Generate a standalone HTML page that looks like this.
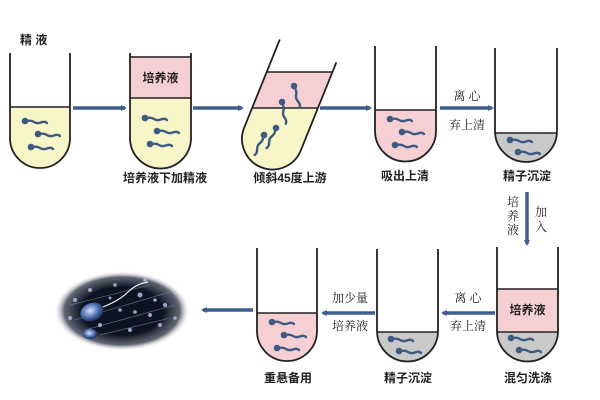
<!DOCTYPE html>
<html><head><meta charset="utf-8"><style>
body{margin:0;background:#fff}
svg{display:block}
.t{font-family:"Liberation Sans","Noto Sans CJK SC",sans-serif;font-weight:bold;font-size:12px;fill:#222}
.s{font-family:"Liberation Serif","Noto Serif CJK SC",serif;font-size:12px;fill:#222}
</style></head><body>
<svg width="600" height="400" viewBox="0 0 600 400" xmlns="http://www.w3.org/2000/svg">
<defs>
<g id="sp"><circle cx="0" cy="0" r="3.3" fill="#3d5b82"/><path d="M2,0 Q6,-1 9,1 T16,1.5 T22,2" stroke="#3d5b82" stroke-width="2.4" fill="none" stroke-linecap="round"/></g>
<radialGradient id="eg" cx="50%" cy="50%" r="50%"><stop offset="0.6" stop-color="#0d1320"/><stop offset="0.85" stop-color="#3a4050" stop-opacity="0.8"/><stop offset="1" stop-color="#fff" stop-opacity="0"/></radialGradient>
<radialGradient id="hd" cx="45%" cy="40%" r="60%"><stop offset="0" stop-color="#d8e6ff"/><stop offset="0.6" stop-color="#4d6fb0"/><stop offset="1" stop-color="#1c2c55"/></radialGradient>
<clipPath id="c1"><path d="M10,50 V138 A30 30 0 0 0 70,138 V50Z"/></clipPath>
<clipPath id="c2"><path d="M130,50 V138 A30.5 30.5 0 0 0 191,138 V50Z"/></clipPath>
<clipPath id="c3"><path transform="translate(272.5,139) rotate(22)" d="M-30.5,-95 V0 A30.5 30.5 0 0 0 30.5,0 V-95Z"/></clipPath>
<clipPath id="c4"><path d="M375,40 V131 A30.5 30.5 0 0 0 436,131 V40Z"/></clipPath>
<clipPath id="c5"><path d="M495,40 V131 A31 31 0 0 0 557,131 V40Z"/></clipPath>
<clipPath id="c6"><path d="M497,240 V331 A30.5 30.5 0 0 0 558,331 V240Z"/></clipPath>
<clipPath id="c7"><path d="M377,240 V331 A30.5 30.5 0 0 0 438,331 V240Z"/></clipPath>
<clipPath id="c8"><path d="M257,240 V331 A30 30 0 0 0 317,331 V240Z"/></clipPath>
<marker id="ah" markerWidth="6" markerHeight="6" refX="4" refY="3" orient="auto" markerUnits="userSpaceOnUse"><path d="M0,0 L6,3 L0,6Z" fill="#3e5f8c"/></marker>
</defs>
<g stroke="#3e5f8c" stroke-width="3.5" fill="none" marker-end="url(#ah)">
<line x1="73" y1="108" x2="125" y2="108"/>
<line x1="193" y1="108" x2="242" y2="108"/>
<line x1="320" y1="108" x2="370" y2="108"/>
<line x1="440" y1="108" x2="492" y2="108"/>
<line x1="527" y1="192" x2="527" y2="244"/>
<line x1="495" y1="313" x2="443" y2="313"/>
<line x1="375" y1="313" x2="323" y2="313"/>
<line x1="253" y1="310" x2="203" y2="310"/>
</g>
<!-- tube1 -->
<g clip-path="url(#c1)"><rect x="0" y="107" width="80" height="70" fill="#f8f5c8"/></g>
<line x1="10" y1="107" x2="70" y2="107" stroke="#222" stroke-width="1.5"/>
<path d="M10,53 V138 A30 30 0 0 0 70,138 V53" stroke="#222" stroke-width="1.8" fill="none"/>
<use href="#sp" x="25" y="121"/><use href="#sp" x="38" y="134"/><use href="#sp" x="31" y="147"/>
<text class="t" x="20" y="44" font-size="13">精 液</text>
<!-- tube2 -->
<g clip-path="url(#c2)"><rect x="120" y="56" width="80" height="42" fill="#f6cfd2"/><rect x="120" y="98" width="80" height="80" fill="#f8f5c8"/></g>
<line x1="130" y1="57" x2="191" y2="57" stroke="#222" stroke-width="1.5"/>
<line x1="130" y1="98" x2="191" y2="98" stroke="#222" stroke-width="1.5"/>
<path d="M130,53 V138 A30.5 30.5 0 0 0 191,138 V53" stroke="#222" stroke-width="1.8" fill="none"/>
<text class="t" x="160.5" y="82" text-anchor="middle" font-weight="normal" font-size="12.5">培养液</text>
<use href="#sp" x="145" y="118"/><use href="#sp" x="157" y="131"/><use href="#sp" x="150" y="144"/>
<text class="t" x="165" y="182" text-anchor="middle" font-size="11">培养液下加精液</text>
<!-- tube3 -->
<g clip-path="url(#c3)"><rect x="230" y="72" width="120" height="36" fill="#f6cfd2"/><rect x="230" y="108" width="120" height="70" fill="#f8f5c8"/>
<line x1="230" y1="72" x2="350" y2="72" stroke="#222" stroke-width="1.5"/>
<line x1="230" y1="108" x2="350" y2="108" stroke="#222" stroke-width="1.5"/></g>
<path transform="translate(272.5,139) rotate(22)" d="M-30.5,-95 V0 A30.5 30.5 0 0 0 30.5,0 V-95" stroke="#222" stroke-width="1.8" fill="none"/>
<use href="#sp" transform="translate(294,86) rotate(70)"/><use href="#sp" transform="translate(282,102) rotate(75)"/>
<use href="#sp" transform="translate(276,128) rotate(110)"/><use href="#sp" transform="translate(264,135) rotate(110)"/>
<text class="t" x="290" y="182" text-anchor="middle" font-size="12">倾斜45度上游</text>
<!-- tube4 -->
<g clip-path="url(#c4)"><rect x="370" y="110" width="80" height="70" fill="#f6cfd2"/></g>
<line x1="375" y1="110" x2="436" y2="110" stroke="#222" stroke-width="1.5"/>
<path d="M375,46 V131 A30.5 30.5 0 0 0 436,131 V46" stroke="#222" stroke-width="1.8" fill="none"/>
<use href="#sp" x="390" y="119"/><use href="#sp" x="402" y="132"/><use href="#sp" x="395" y="145"/>
<text class="t" x="405" y="180" text-anchor="middle" font-size="12">吸出上清</text>
<text class="s" x="467" y="100" text-anchor="middle">离 心</text>
<text class="s" x="467" y="129" text-anchor="middle">弃上清</text>
<!-- tube5 -->
<g clip-path="url(#c5)"><rect x="490" y="133" width="80" height="40" fill="#c9c9c9"/></g>
<line x1="495" y1="133" x2="557" y2="133" stroke="#222" stroke-width="1.5"/>
<path d="M495,48 V131 A31 31 0 0 0 557,131 V48" stroke="#222" stroke-width="1.8" fill="none"/>
<use href="#sp" x="510" y="140"/><use href="#sp" x="518" y="152"/>
<text class="t" x="527" y="180" text-anchor="middle" font-size="12">精子沉淀</text>
<text class="s" x="513" y="206" text-anchor="middle">培</text>
<text class="s" x="513" y="220" text-anchor="middle">养</text>
<text class="s" x="513" y="234" text-anchor="middle">液</text>
<text class="s" x="541" y="216" text-anchor="middle">加</text>
<text class="s" x="541" y="231" text-anchor="middle">入</text>
<!-- tube6 -->
<g clip-path="url(#c6)"><rect x="490" y="289" width="80" height="43" fill="#f6cfd2"/><rect x="490" y="332" width="80" height="40" fill="#c9c9c9"/></g>
<line x1="497" y1="289" x2="558" y2="289" stroke="#222" stroke-width="1.5"/>
<line x1="497" y1="332" x2="558" y2="332" stroke="#222" stroke-width="1.5"/>
<path d="M497,247 V331 A30.5 30.5 0 0 0 558,331 V247" stroke="#222" stroke-width="1.8" fill="none"/>
<text class="t" x="527.5" y="314" text-anchor="middle" font-size="13">培养液</text>
<use href="#sp" x="511" y="338"/><use href="#sp" x="519" y="350"/>
<text class="t" x="528" y="382" text-anchor="middle" font-size="12">混匀洗涤</text>
<text class="s" x="468" y="302" text-anchor="middle">离 心</text>
<text class="s" x="468" y="330" text-anchor="middle">弃上清</text>
<!-- tube7 -->
<g clip-path="url(#c7)"><rect x="370" y="332" width="80" height="40" fill="#c9c9c9"/></g>
<line x1="377" y1="332" x2="438" y2="332" stroke="#222" stroke-width="1.5"/>
<path d="M377,249 V331 A30.5 30.5 0 0 0 438,331 V249" stroke="#222" stroke-width="1.8" fill="none"/>
<use href="#sp" x="391" y="339"/><use href="#sp" x="399" y="351"/>
<text class="t" x="408" y="382" text-anchor="middle" font-size="12">精子沉淀</text>
<text class="s" x="350" y="302" text-anchor="middle">加少量</text>
<text class="s" x="350" y="330" text-anchor="middle">培养液</text>
<!-- tube8 -->
<g clip-path="url(#c8)"><rect x="250" y="313" width="80" height="60" fill="#f6cfd2"/></g>
<line x1="257" y1="313" x2="317" y2="313" stroke="#222" stroke-width="1.5"/>
<path d="M257,248 V331 A30 30 0 0 0 317,331 V248" stroke="#222" stroke-width="1.8" fill="none"/>
<use href="#sp" x="272" y="322"/><use href="#sp" x="284" y="335"/><use href="#sp" x="277" y="348"/>
<text class="t" x="288" y="382" text-anchor="middle" font-size="12">重悬备用</text>
<!-- image -->
<ellipse cx="122" cy="311" rx="68" ry="40" fill="url(#eg)"/>
<g stroke="#7f93b8" stroke-width="0.8" opacity="0.6">
<line x1="75" y1="320" x2="170" y2="292"/><line x1="85" y1="330" x2="175" y2="305"/><line x1="100" y1="335" x2="170" y2="318"/><line x1="70" y1="305" x2="150" y2="285"/>
</g>
<g fill="#a9c2e8" opacity="0.85">
<circle cx="75" cy="300" r="2"/><circle cx="90" cy="290" r="2"/><circle cx="140" cy="295" r="2.5"/><circle cx="150" cy="315" r="2"/><circle cx="165" cy="305" r="2"/><circle cx="100" cy="325" r="2"/><circle cx="130" cy="330" r="2"/><circle cx="160" cy="325" r="2"/><circle cx="70" cy="318" r="2"/><circle cx="115" cy="285" r="1.8"/><circle cx="145" cy="280" r="1.8"/><circle cx="175" cy="318" r="1.8"/><circle cx="120" cy="310" r="1.8"/><circle cx="135" cy="312" r="1.8"/><circle cx="155" cy="300" r="1.8"/><circle cx="110" cy="298" r="1.5"/>
</g>
<path d="M103,307 Q120,300 128,292 T148,282" stroke="#e8eef8" stroke-width="1.2" fill="none"/>
<ellipse cx="92" cy="312" rx="12" ry="9" fill="url(#hd)" transform="rotate(-20 92 312)"/>
<ellipse cx="90" cy="334" rx="7" ry="5" fill="url(#hd)"/>
</svg>
</body></html>
